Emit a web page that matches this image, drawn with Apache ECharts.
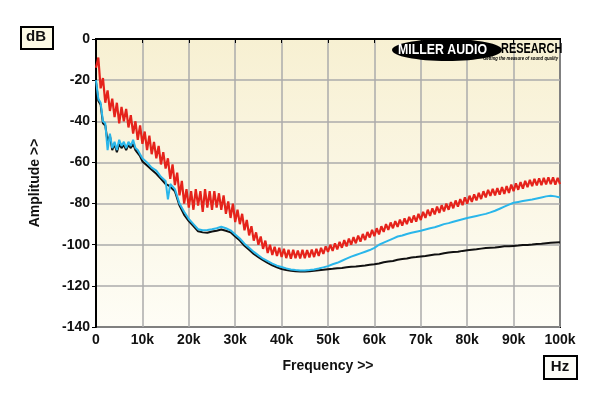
<!DOCTYPE html>
<html>
<head>
<meta charset="utf-8">
<script src="https://cdn.jsdelivr.net/npm/echarts@6/dist/echarts.min.js"></script>
<style>
html,body{margin:0;padding:0;background:#fff;}
#chart{width:600px;height:396px;}
</style>
</head>
<body>
<div id="chart"></div>
<script>
// ---- Data (frequency in kHz, amplitude in dB) ----
const X_TICKS_KHZ = [0, 10, 20, 30, 40, 50, 60, 70, 80, 90, 100];
const Y_TICKS_DB = [0, -20, -40, -60, -80, -100, -120, -140];

// red trace sampled every 0.5 kHz from 0 to 100 kHz
const RED_STEP_KHZ = 0.5;
const redDb = [
  -14, -9, -24, -19, -31, -25, -35, -29, -38, -31,
  -41, -33, -40, -34, -43, -37, -46, -40, -49, -42,
  -51, -45, -54, -47, -56, -50, -58, -52, -61, -55,
  -63, -58, -68, -61, -71, -65, -76, -69, -80, -73,
  -82, -74, -83, -73, -81, -74, -84, -73, -82, -74,
  -83, -74, -82, -75, -83, -76, -85, -79, -87, -80,
  -89, -83, -90, -85, -93, -88, -95.5, -91, -98, -94,
  -100, -96, -102, -98, -104, -100, -105, -101, -105.5, -101.5,
  -106, -102, -106.5, -102.5, -106.8, -102.5, -106.5, -102.8, -106.7, -102.5,
  -106.5, -102.6, -106.2, -102.3, -106, -102, -105.5, -101.5, -104.5, -100.8,
  -103.5, -100, -103, -99.3, -102.3, -98.6, -101.5, -97.8, -100.8, -97,
  -100, -96.3, -99.3, -95.6, -98.5, -94.8, -97.7, -93.8, -96.5, -92.8,
  -95.8, -92, -95, -91, -93.8, -90, -92.8, -89.2, -92, -88.5,
  -91.3, -87.8, -90.7, -87.2, -90, -86.5, -89.3, -85.8, -88.8, -85,
  -88, -84, -87, -83, -86, -82.3, -85.3, -81.5, -84.5, -80.8,
  -83.8, -80, -83, -79.3, -82.3, -78.5, -81.5, -77.8, -80.8, -77,
  -80, -76.2, -79.2, -75.5, -78.5, -74.8, -77.8, -74, -77, -73.3,
  -76.3, -72.8, -76, -72.5, -75.7, -72, -75.3, -71.5, -74.8, -70.8,
  -74, -70.2, -73.3, -69.6, -72.7, -69, -72, -68.5, -71.5, -68,
  -71.2, -67.7, -71, -67.5, -70.7, -67.2, -70.6, -67.3, -70.8, -67.5,
  -70.5
];

// blue and black traces, frequencies listed explicitly
const traceFreqKhz = [
  0, 0.5, 1, 1.5, 2, 2.5, 3, 3.5, 4, 4.5, 5, 5.5, 6, 6.5, 7, 7.5, 8, 8.5, 9, 9.5,
  10, 11, 12, 13, 14, 15, 15.5, 16, 17, 18, 19, 20, 21, 22, 23, 24, 25, 26, 27, 28, 29, 30,
  31, 32, 33, 34, 35, 36, 37, 38, 39, 40, 41, 42, 43, 44, 45, 46, 47, 48, 49, 50,
  51, 52, 53, 54, 55, 56, 57, 58, 59, 60, 61, 62, 63, 64, 65, 66, 67, 68, 69, 70,
  71, 72, 73, 74, 75, 76, 77, 78, 79, 80, 81, 82, 83, 84, 85, 86, 87, 88, 89, 90,
  91, 92, 93, 94, 95, 96, 97, 98, 99, 100
];
const blueDb = [
  -20, -29, -31, -40, -41, -54, -46, -53, -50, -54, -49, -52, -50, -53, -50, -52, -49, -53, -54, -56,
  -58, -60, -62.5, -64, -67, -69, -78, -70.5, -73, -80, -84, -87.5, -90, -92.5, -93, -92.8, -92.5, -92, -91.3, -92, -93, -95,
  -97, -99.5, -101.5, -103.5, -105.2, -106.8, -108, -109.2, -110.2, -110.8, -111.5, -112, -112.3, -112.5, -112.5, -112.3, -112, -111.6, -111, -110.4,
  -109.5, -108.8, -107.8, -106.8, -105.8, -105, -104.2, -103.4, -102.6, -101.5, -100, -99, -98, -97, -96, -95.5, -94.8, -94.2, -93.7, -93.2,
  -92.6, -92, -91.5, -90.8, -90, -89.5, -88.8, -88.2, -87.6, -87, -86.5, -86, -85.5, -85, -84.3, -83.5, -82.5, -81.5, -80.5, -79.6,
  -79.2, -78.8, -78.4, -78, -77.5, -77, -76.5, -76.2, -76.5, -77
];
const blackDb = [
  -21, -30, -32, -41, -42, -50, -47, -54, -51, -55, -51, -53, -51.5, -54, -51.5, -53, -51, -54, -55.5, -57,
  -59.5, -61.5, -63.5, -65.5, -68, -70.5, -71, -71.8, -74, -81, -85.5, -88.5, -91, -93.5, -94, -94.2, -93.6, -93.2, -92.6, -93.2, -94, -96,
  -98, -100.5, -102.5, -104.5, -106, -107.5, -108.8, -110, -111, -111.8, -112.3, -112.7, -112.9, -113, -113, -112.9, -112.7, -112.4, -112.2, -111.9,
  -111.7, -111.4, -111.3, -111, -110.7, -110.6, -110.3, -110.1, -109.7, -109.5, -109.1, -108.5, -108.2, -107.9, -107.3, -107, -106.7, -106.2, -106, -105.7,
  -105.5, -105.1, -104.8, -104.6, -104.2, -103.8, -103.6, -103.4, -103, -102.7, -102.4, -102.2, -101.9, -101.6, -101.5, -101.4, -101.1, -100.8, -100.8, -100.6,
  -100.4, -100.1, -100.1, -99.9, -99.6, -99.5, -99.3, -99.1, -98.9, -98.8
];

const redData = redDb.map((v, i) => [i * RED_STEP_KHZ, v]);
const blueData = traceFreqKhz.map((f, i) => [f, blueDb[i]]);
const blackData = traceFreqKhz.map((f, i) => [f, blackDb[i]]);

const chart = echarts.init(document.getElementById('chart'), null, {renderer: 'canvas'});
const FONT = 'Liberation Sans, Arial, sans-serif';

chart.setOption({
  animation: false,
  backgroundColor: '#ffffff',
  grid: {
    left: 96, right: 40, top: 39, bottom: 69,
    show: true,
    borderColor: '#000', borderWidth: 2,
    backgroundColor: {
      type: 'linear', x: 0, y: 0, x2: 0, y2: 1,
      colorStops: [{offset: 0, color: '#f7f0d2'}, {offset: 1, color: '#fefdf6'}]
    }
  },
  xAxis: {
    type: 'value', min: X_TICKS_KHZ[0], max: X_TICKS_KHZ[X_TICKS_KHZ.length - 1], interval: 10,
    name: 'Frequency >>', nameLocation: 'middle', nameGap: 32,
    nameTextStyle: {fontFamily: FONT, fontWeight: 'bold', fontSize: 14, color: '#111'},
    axisLine: {show: true, lineStyle: {color: '#000', width: 2}},
    axisTick: {show: true, length: 4, lineStyle: {color: '#000', width: 1}},
    axisLabel: {fontFamily: FONT, fontWeight: 'bold', fontSize: 14, color: '#111', margin: 6,
      formatter: v => v === 0 ? '0' : v + 'k'},
    splitLine: {show: true, lineStyle: {color: '#ababab', width: 1.5}}
  },
  yAxis: {
    type: 'value', min: Y_TICKS_DB[Y_TICKS_DB.length - 1], max: Y_TICKS_DB[0], interval: 20,
    name: 'Amplitude >>', nameLocation: 'middle', nameGap: 54, nameRotate: 90,
    nameTextStyle: {fontFamily: FONT, fontWeight: 'bold', fontSize: 14, color: '#111'},
    axisLine: {show: true, lineStyle: {color: '#000', width: 2}},
    axisTick: {show: true, length: 4, lineStyle: {color: '#000', width: 1}},
    axisLabel: {fontFamily: FONT, fontWeight: 'bold', fontSize: 14, color: '#111', margin: 6},
    splitLine: {show: true, lineStyle: {color: '#ababab', width: 1.5}}
  },
  series: [
    {type: 'line', data: blackData, showSymbol: false, lineStyle: {color: '#111', width: 2}, z: 2},
    {type: 'line', data: blueData, showSymbol: false, lineStyle: {color: '#2ab6ea', width: 2}, z: 3},
    {type: 'line', data: redData, showSymbol: false, lineStyle: {color: '#e5231b', width: 2.2}, z: 4}
  ],
  graphic: [
    {type: 'rect', left: 20, top: 26, shape: {width: 32, height: 22},
      style: {fill: '#fdfbe6', stroke: '#000', lineWidth: 2}},
    {type: 'text', x: 36, y: 37, style: {text: 'dB', font: 'bold 15px ' + FONT, fill: '#111',
      textAlign: 'center', textVerticalAlign: 'middle'}},
    {type: 'rect', left: 543, top: 355, shape: {width: 33, height: 23},
      style: {fill: '#fdfdf8', stroke: '#000', lineWidth: 2}},
    {type: 'text', x: 560, y: 367, style: {text: 'Hz', font: 'bold 15px ' + FONT, fill: '#111',
      textAlign: 'center', textVerticalAlign: 'middle'}},
    {type: 'ellipse', shape: {cx: 447, cy: 50, rx: 55, ry: 11}, style: {fill: '#000'}, z: 10},
    {type: 'text', x: 398, y: 50, scaleX: 0.88,
      style: {text: 'MILLER AUDIO', font: 'bold 14px ' + FONT, fill: '#fff', textVerticalAlign: 'middle'}, z: 11},
    {type: 'text', x: 501, y: 49, scaleX: 0.78,
      style: {text: 'RESEARCH', font: 'bold 14px ' + FONT, fill: '#000', textVerticalAlign: 'middle'}, z: 11},
    {type: 'text', x: 483, y: 59, scaleX: 0.85,
      style: {text: 'Getting the measure of sound quality', font: 'italic bold 5px ' + FONT, fill: '#000', textVerticalAlign: 'middle'}, z: 11}
  ]
});
</script>
</body>
</html>
